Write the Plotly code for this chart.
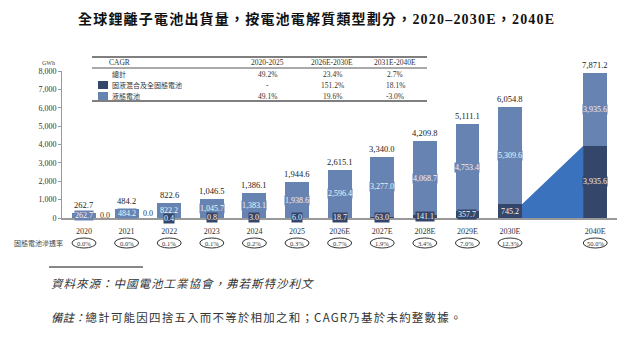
import plotly.graph_objects as go

# ---------------- data ----------------
years = ["2020", "2021", "2022", "2023", "2024", "2025",
         "2026E", "2027E", "2028E", "2029E", "2030E", "2040E"]
x_pos = [0, 1, 2, 3, 4, 5, 6, 7, 8, 9, 10, 12]
total = [262.7, 484.2, 822.6, 1046.5, 1386.1, 1944.6,
         2615.1, 3340.0, 4209.8, 5111.1, 6054.8, 7871.2]
liquid = [262.7, 484.2, 822.2, 1045.7, 1383.1, 1938.6,
          2596.4, 3277.0, 4068.7, 4753.4, 5309.6, 3935.6]
solid = [0.0, 0.0, 0.4, 0.8, 3.0, 6.0,
         18.7, 63.0, 141.1, 357.7, 745.2, 3935.6]
penetration = ["0.0%", "0.0%", "0.1%", "0.1%", "0.2%", "0.3%",
               "0.7%", "1.9%", "3.4%", "7.0%", "12.3%", "50.0%"]

cagr_header = ["CAGR", "2020-2025", "2026E-2030E", "2031E-2040E"]
cagr_rows = ["總計", "固液混合及全固態電池", "液態電池"]
cagr_total = ["49.2%", "23.4%", "2.7%"]
cagr_solid = ["-", "151.2%", "18.1%"]
cagr_liquid = ["49.1%", "19.6%", "-3.0%"]

title = "全球鋰離子電池出貨量，按電池電解質類型劃分，2020–2030E，2040E"
source = "資料來源：中國電池工業協會，弗若斯特沙利文"
note_head = "備註："
note_body = "總計可能因四捨五入而不等於相加之和；CAGR乃基於未約整數據。"
pen_label = "固態電池滲透率"

# ---------------- style ----------------
C_LIQ = "#6783b2"
C_SOL = "#34466a"
C_TRI = "#3a72bd"
FONT = "Liberation Serif, Noto Sans CJK TC, serif"
CJK = "Noto Sans CJK TC, Liberation Serif, serif"
BW = 0.56

L, R, T, B = 62, 23, 71, 122
W, H = 640, 340
PW, PH = W - L - R, H - T - B


def xp(px):
    return (px - L) / PW


def yp(py):
    return (H - B - py) / PH


def A(**kw):
    d = dict(showarrow=False, xanchor="center", yanchor="middle")
    d.update(kw)
    return d


fig = go.Figure()

# transition wedge between 2030E and 2040E solid segments
i30, i40 = 10, 11
fig.add_trace(go.Scatter(
    x=[x_pos[i30] + BW / 2, x_pos[i30] + BW / 2, x_pos[i40] - BW / 2, x_pos[i40] - BW / 2],
    y=[0, solid[i30], solid[i40], 0],
    fill="toself", fillcolor=C_TRI, line=dict(width=0), mode="lines",
    hoverinfo="skip", showlegend=False))

fig.add_trace(go.Bar(x=x_pos, y=solid, width=BW, marker=dict(color=C_SOL, line=dict(width=0)),
                     showlegend=False, hoverinfo="skip"))
fig.add_trace(go.Bar(x=x_pos, y=liquid, width=BW, marker=dict(color=C_LIQ, line=dict(width=0)),
                     showlegend=False, hoverinfo="skip"))

ann = []
shapes = []

for i, xv in enumerate(x_pos):
    # total label
    ann.append(A(x=xv, y=total[i], xref="x", yref="y", text=f"{total[i]:,.1f}",
                 yanchor="bottom", yshift=1,
                 font=dict(family=FONT, size=8.5, color="#222")))
    # liquid label
    ann.append(A(x=xv, y=solid[i] + liquid[i] / 2, xref="x", yref="y",
                 text=f"{liquid[i]:,.1f}", bgcolor=C_LIQ, borderpad=0,
                 font=dict(family=FONT, size=8, color="#f4f4f4")))
    # solid label
    if solid[i] == 0:
        ann.append(A(x=xv + BW / 2, y=total[i] / 2, xref="x", yref="y",
                     text=f"{solid[i]:,.1f}", xanchor="left", xshift=2,
                     font=dict(family=FONT, size=8, color="#333")))
    else:
        ann.append(A(x=xv, y=solid[i] / 2, xref="x", yref="y",
                     text=f"{solid[i]:,.1f}", bgcolor=C_SOL, borderpad=0,
                     font=dict(family=FONT, size=8, color="#f4f4f4")))
    # penetration row
    ann.append(A(x=xv, y=yp(243), xref="x", yref="paper", text=penetration[i],
                 font=dict(family=FONT, size=6.5, color="#333")))
    shapes.append(dict(type="circle", xref="x", yref="paper", xsizemode="pixel",
                       xanchor=xv, x0=-12, x1=12, y0=yp(248), y1=yp(238),
                       line=dict(color="#333", width=1)))

ann.append(A(x=xp(65), y=yp(243), xref="paper", yref="paper", text=pen_label,
             xanchor="right", font=dict(family=CJK, size=7, color="#444")))

# title
ann.append(A(x=xp(316), y=yp(19), xref="paper", yref="paper",
             text=f"<b><span style='letter-spacing:1.2px'>{title}</span></b>",
             font=dict(family=FONT, size=14, color="#111")))
# unit
ann.append(A(x=xp(48), y=yp(63), xref="paper", yref="paper", text="GWh",
             font=dict(family=FONT, size=6, color="#444")))

# CAGR table
col_x = [119, 267, 332, 395]
for cx, h in zip(col_x, cagr_header):
    ann.append(A(x=xp(cx), y=yp(62.5), xref="paper", yref="paper", text=h,
                 font=dict(family=FONT, size=7.5, color="#333")))
row_y = [74, 85, 96]
ann.append(A(x=xp(119), y=yp(row_y[0]), xref="paper", yref="paper", text=cagr_rows[0],
             font=dict(family=CJK, size=7, color="#333")))
for ry, name, col in zip(row_y[1:], cagr_rows[1:], [C_SOL, C_LIQ]):
    shapes.append(dict(type="rect", xref="paper", yref="paper", x0=xp(98), x1=xp(108),
                       y0=yp(ry + 4), y1=yp(ry - 4), fillcolor=col, line=dict(width=0)))
    ann.append(A(x=xp(110), y=yp(ry), xref="paper", yref="paper", text=name, xanchor="left",
                 font=dict(family=CJK, size=7, color="#333")))
for ry, vals in zip(row_y, [cagr_total, cagr_solid, cagr_liquid]):
    for cx, v in zip(col_x[1:], vals):
        ann.append(A(x=xp(cx), y=yp(ry), xref="paper", yref="paper", text=v,
                     font=dict(family=FONT, size=7.5, color="#333")))
for yy, wd in [(57, 1.5), (68, 1), (101, 1.5)]:
    shapes.append(dict(type="line", xref="paper", yref="paper", x0=xp(92), x1=xp(427),
                       y0=yp(yy), y1=yp(yy), line=dict(color="#555", width=wd)))

# footnotes
shapes.append(dict(type="line", xref="paper", yref="paper", x0=xp(49), x1=xp(143),
                   y0=yp(267), y1=yp(267), line=dict(color="#111", width=1.2)))
ann.append(A(x=xp(49), y=yp(283), xref="paper", yref="paper",
             text=f"<i><span style='letter-spacing:1px'>{source}</span></i>",
             xanchor="left", font=dict(family=CJK, size=11.5, color="#333")))
ann.append(A(x=xp(49), y=yp(317), xref="paper", yref="paper",
             text=f"<i>{note_head}</i><span style='letter-spacing:1.2px'>{note_body}</span>",
             xanchor="left", font=dict(family=CJK, size=11.5, color="#333")))

fig.update_layout(
    width=W, height=H, margin=dict(l=L, r=R, t=T, b=B),
    barmode="stack", bargap=0, plot_bgcolor="white", paper_bgcolor="white",
    annotations=ann, shapes=shapes,
    xaxis=dict(range=[-0.516, 12.51], tickvals=x_pos, ticktext=years, showgrid=False,
               zeroline=False, showline=True, linecolor="#999", linewidth=1.5, ticks="",
               ticklabelstandoff=5,
               tickfont=dict(family=FONT, size=8, color="#333")),
    yaxis=dict(range=[0, 8000], dtick=1000, tickformat=",", showgrid=False, zeroline=False,
               showline=True, linecolor="#999", linewidth=1, ticks="outside", ticklen=3,
               tickcolor="#999", tickfont=dict(family=FONT, size=8, color="#333")),
)

fig.write_html("out.html")
